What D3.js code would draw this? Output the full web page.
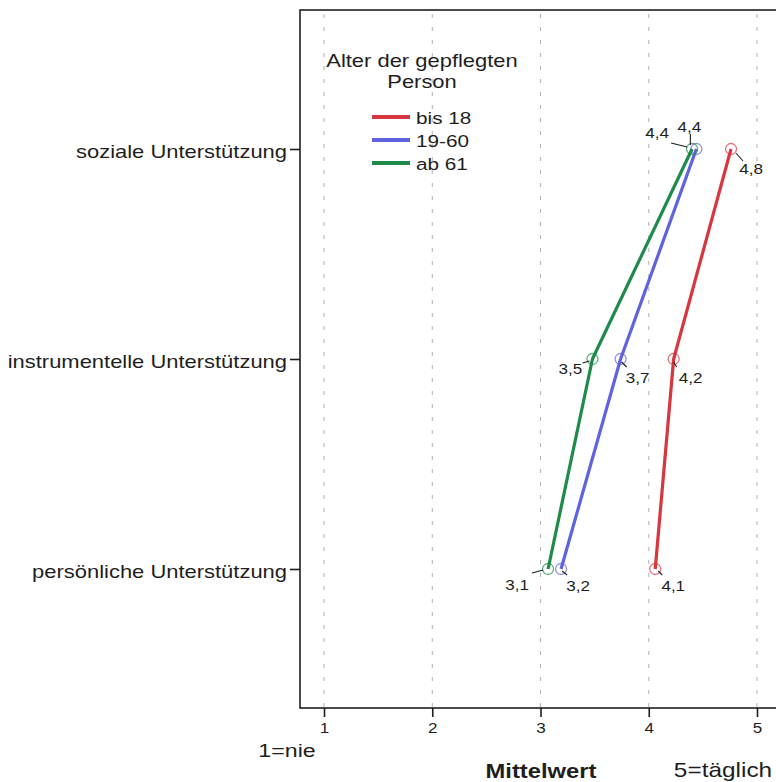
<!DOCTYPE html>
<html><head><meta charset="utf-8">
<script src="https://cdn.jsdelivr.net/npm/d3@7"></script>
<style>body{margin:0;background:#fff}svg{display:block;font-family:"Liberation Sans",Arial,sans-serif}</style>
</head><body><div id="chart"></div>
<script>
const categories = ["soziale Unterstützung", "instrumentelle Unterstützung", "persönliche Unterstützung"];
const seriesNames = ["bis 18", "19-60", "ab 61"];
const bis18 = [4.76, 4.23, 4.06];
const age19_60 = [4.44, 3.74, 3.19];
const ab61 = [4.40, 3.48, 3.07];
const xTicks = [1, 2, 3, 4, 5];
const legendTitle = ["Alter der gepflegten", "Person"];
const xTitle = "Mittelwert";
const xLeftNote = "1=nie";
const xRightNote = "5=täglich";
const colors = ["#d8363f", "#5f63df", "#1f8b4a"];

const W = 776, H = 782, SX = 1.22;
const svg = d3.select("#chart").append("svg").attr("width", W).attr("height", H);
const mLeft = 300, mTop = 10, mBottom = 708, mRight = 790;
const ink = "#1e1e1e";

function addText(parent, px, py, str, size, opts = {}) {
  return parent.append("text")
    .attr("transform", `translate(${px},${py}) scale(${SX},1)`)
    .attr("text-anchor", opts.anchor || "middle")
    .attr("dy", opts.dy || "0.35em")
    .attr("font-size", size)
    .attr("font-weight", opts.weight || "normal")
    .attr("fill", ink).text(str);
}

const x = d3.scaleLinear().domain([1, 5]).range([324, 757]);
const y = d3.scalePoint().domain(categories).range([mTop, mBottom]).padding(0.662);

// frame
svg.append("rect").attr("x", mLeft).attr("y", mTop).attr("width", mRight - mLeft).attr("height", mBottom - mTop)
  .attr("fill", "none").attr("stroke", ink).attr("stroke-width", 1.6);

// gridlines
svg.append("g").selectAll("line").data(xTicks).join("line")
  .attr("x1", d => x(d)).attr("x2", d => x(d)).attr("y1", mTop + 4).attr("y2", mBottom - 1)
  .attr("stroke", "#b0b0b0").attr("stroke-dasharray", "4,9").attr("stroke-width", 1);

// x axis
const xAxis = d3.axisBottom(x).tickValues(xTicks).tickSize(9).tickFormat(d3.format("d"));
const gx = svg.append("g").attr("transform", `translate(0,${mBottom})`).call(xAxis);
gx.select(".domain").remove();
gx.selectAll(".tick line").attr("stroke", ink).attr("stroke-width", 1.6);
gx.selectAll(".tick text").attr("font-size", 14).attr("fill", ink)
  .attr("font-family", "Liberation Sans, Arial, sans-serif")
  .attr("transform", `scale(${SX},1)`).attr("dy", "0.9em");

// y axis
const yAxis = d3.axisLeft(y).tickSize(10).tickPadding(3);
const gy = svg.append("g").attr("transform", `translate(${mLeft},0)`).call(yAxis);
gy.select(".domain").remove();
gy.selectAll(".tick line").attr("stroke", ink).attr("stroke-width", 1.6);
gy.selectAll(".tick text").attr("font-size", 18).attr("fill", ink)
  .attr("font-family", "Liberation Sans, Arial, sans-serif")
  .attr("transform", `scale(${SX},1)`).attr("x", -13 / SX).attr("dy", "0.45em");

// series
const series = [bis18, age19_60, ab61];
const line = d3.line().x(d => x(d.v)).y(d => y(d.c));
series.forEach((vals, i) => {
  const pts = vals.map((v, j) => ({v, c: categories[j]}));
  svg.append("path").datum(pts).attr("d", line).attr("fill", "none")
    .attr("stroke", colors[i]).attr("stroke-width", 3.2).attr("stroke-linejoin", "round");
  svg.append("g").selectAll("circle").data(pts).join("circle")
    .attr("cx", d => x(d.v)).attr("cy", d => y(d.c)).attr("r", 5.5)
    .attr("fill", "none").attr("stroke", colors[i]).attr("stroke-opacity", 0.7).attr("stroke-width", 1.3);
});

// value label layout relative to each point: [labelDx, labelDy, leaderX1, leaderY1, leaderX2, leaderY2]
// indexed [category][series]
const labelLayout = [
  [[20, 20, 5, 4, 12, 12], [-7, -22, -6, -4, -6, -15], [-35, -16, -5, -2, -21, -6]],
  [[17, 19, 0, 3, 3, 8], [17, 19, 1, 3, 6, 8], [-22, 10, -3, 2, -10, 4]],
  [[18, 17, 3, 2, 7, 6], [17, 17, 1, 2, 6, 6], [-31, 16, -5, 1, -16, 4]]
];
const fmt = v => d3.format(".1f")(v).replace(".", ",");
const lblG = svg.append("g");
series.forEach((vals, i) => {
  vals.forEach((v, j) => {
    const px = x(v), py = y(categories[j]);
    const L = labelLayout[j][i];
    lblG.append("line").attr("x1", px + L[2]).attr("y1", py + L[3])
      .attr("x2", px + L[4]).attr("y2", py + L[5]).attr("stroke", ink).attr("stroke-width", 1.1);
    addText(lblG, px + L[0], py + L[1], fmt(v), 14);
  });
});

// legend
const lg = svg.append("g");
legendTitle.forEach((t, k) => addText(lg, 422, 61 + k * 21, t, 18));
seriesNames.forEach((name, i) => {
  const yy = 117 + i * 23;
  lg.append("line").attr("x1", 372).attr("x2", 410).attr("y1", yy).attr("y2", yy)
    .attr("stroke", colors[i]).attr("stroke-width", 4);
  addText(lg, 416, yy + 1, name, 17, {anchor: "start"});
});

// axis titles
addText(svg, 287, 750, xLeftNote, 19);
addText(svg, 541, 771, xTitle, 19.5, {weight: "bold"});
addText(svg, 723, 770, xRightNote, 20);
</script></body></html>
